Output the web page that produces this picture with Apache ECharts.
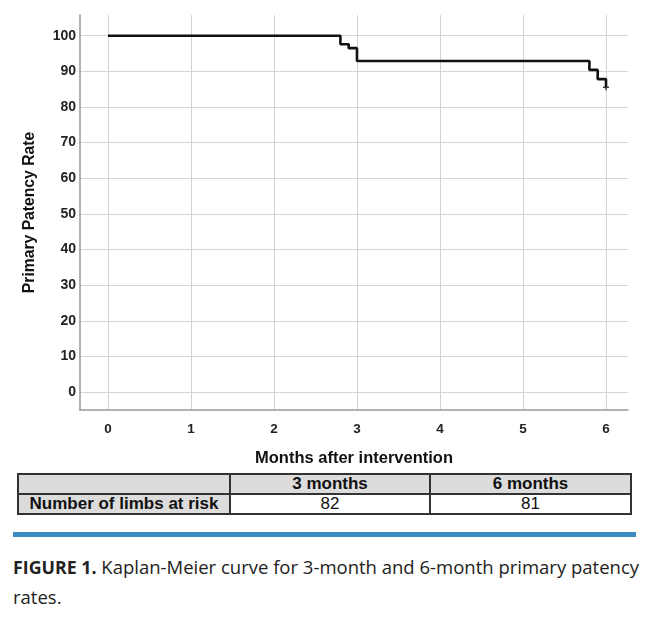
<!DOCTYPE html>
<html><head><meta charset="utf-8">
<script src="https://cdn.jsdelivr.net/npm/echarts@6/dist/echarts.min.js"></script>
<style>
html,body{margin:0;padding:0;background:#fff;width:650px;height:617px;overflow:hidden;}
#chart{position:absolute;left:0;top:0;width:650px;height:472px;}
#tbl{position:absolute;left:17px;top:473px;table-layout:fixed;border-collapse:collapse;font-family:"Liberation Sans",Arial,sans-serif;font-size:17px;color:#111;}
#tbl td{border:2px solid #333;height:18px;padding:0;text-align:center;line-height:18px;overflow:hidden;white-space:nowrap;}
#rule{position:absolute;left:13px;top:532px;width:623px;height:5px;background:#3a8cc1;}
#cap{position:absolute;left:13px;top:552px;width:637px;font-family:"Open Sans","Noto Sans",sans-serif;font-size:18.5px;line-height:29px;color:#222;}
#cap b{font-size:17.8px;}
</style></head>
<body>
<div id="chart"></div>
<table id="tbl"></table>
<div id="rule"></div>
<div id="cap"></div>
<script>
// Kaplan-Meier step data (months, patency %)
const months = [0, 2.8, 2.9, 3.0, 5.8, 5.9, 6.0];
const patency = [100, 97.6, 96.5, 92.9, 90.4, 87.8, 85.5];
const censorPoints = [[6.0, 85.5]];
const yTicks = [0, 10, 20, 30, 40, 50, 60, 70, 80, 90, 100];
const xTicks = [0, 1, 2, 3, 4, 5, 6];
const tableHeader = ["", "3 months", "6 months"];
const tableRowLabel = "Number of limbs at risk";
const atRisk = [82, 81];
const captionBold = "FIGURE 1.";
const captionText = " Kaplan-Meier curve for 3-month and 6-month primary patency rates.";

const chart = echarts.init(document.getElementById('chart'));
const font = '"Liberation Sans", Arial, sans-serif';
chart.setOption({
  animation: false,
  grid: {left: 80, top: 15, width: 548, height: 400},
  xAxis: {
    type: 'value', min: -0.337, max: 6.265,
    name: 'Months after intervention', nameLocation: 'middle', nameGap: 40,
    nameTextStyle: {fontFamily: font, fontWeight: 'bold', fontSize: 16.5, color: '#111'},
    axisLine: {show: true, onZero: false, lineStyle: {color: '#999', width: 1.5}},
    axisTick: {show: false, customValues: xTicks},
    axisLabel: {customValues: xTicks, fontFamily: font, fontWeight: 'bold', fontSize: 13.5, color: '#222', margin: 12},
    splitLine: {show: true, customValues: xTicks, lineStyle: {color: '#d4d4d4', width: 1}}
  },
  yAxis: {
    type: 'value', min: -5, max: 105.8,
    name: 'Primary Patency Rate', nameLocation: 'middle', nameGap: 42, nameRotate: 90,
    nameTextStyle: {fontFamily: font, fontWeight: 'bold', fontSize: 15.7, color: '#111'},
    axisLine: {show: true, onZero: false, lineStyle: {color: '#999', width: 1.5}},
    axisTick: {show: false, customValues: yTicks},
    axisLabel: {customValues: yTicks, fontFamily: font, fontWeight: 'bold', fontSize: 14, color: '#222', margin: 4},
    splitLine: {show: true, customValues: yTicks, lineStyle: {color: '#d4d4d4', width: 1}}
  },
  series: [
    {type: 'line', step: 'end', data: months.map((m, i) => [m, patency[i]]),
     symbol: 'none', lineStyle: {color: '#111', width: 2.6}},
    {type: 'scatter', data: censorPoints, symbol: 'path://M0,0 L10,0 M5,-5 L5,5', symbolSize: [6, 6],
     itemStyle: {color: 'none', borderColor: '#111', borderWidth: 1.5}}
  ]
});

// Table
const tbl = document.getElementById('tbl');
const widths = [210, 198, 199];
let r1 = '<tr>' + tableHeader.map((h, i) => `<td style="width:${widths[i]}px;background:#dcdcdc;font-weight:bold">${h}</td>`).join('') + '</tr>';
let r2 = `<tr><td style="width:${widths[0]}px;background:#dcdcdc;font-weight:bold">${tableRowLabel}</td>` +
  atRisk.map((v, i) => `<td style="width:${widths[i+1]}px;background:#fff">${v}</td>`).join('') + '</tr>';
tbl.innerHTML = r1 + r2;
document.getElementById('cap').innerHTML = `<b>${captionBold}</b>${captionText}`;
</script>
</body></html>
